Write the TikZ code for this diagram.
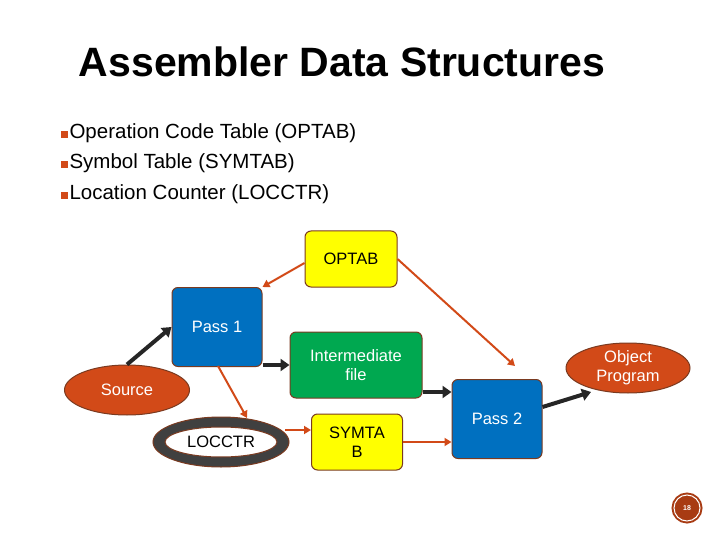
\documentclass[tikz,border=0pt]{standalone}
\usepackage{fontspec}
\setmainfont{Liberation Sans}
\usetikzlibrary{shapes.geometric,arrows.meta}
\definecolor{boxblue}{HTML}{0070C0}
\definecolor{boxgreen}{HTML}{00A850}
\definecolor{boxyellow}{HTML}{FFFF00}
\definecolor{rust}{HTML}{D24A18}
\definecolor{edgebrown}{HTML}{7A3A20}
\newcommand{\bulletsq}{{\color{rust}\rule{7pt}{7pt}}\hspace{2pt}}
\tikzset{
  box/.style={draw=edgebrown, line width=1pt, rounded corners=6pt, inner sep=0pt, font=\fontsize{16.5}{19}\selectfont, align=center},
  pass/.style={box, fill=boxblue, text=white, minimum width=90pt, minimum height=79pt},
  tab/.style={box, fill=boxyellow, minimum width=91pt, minimum height=56pt},
  blob/.style={ellipse, draw=edgebrown, line width=1pt, fill=rust, text=white, inner sep=0pt, font=\fontsize{16.5}{19}\selectfont, align=center},
  flow/.style={line width=4pt, draw=black!85, -{Triangle[length=9pt,width=12pt]}},
  uses/.style={line width=2pt, draw=rust, -{Triangle[length=7pt,width=8pt]}},
  bullet/.style={anchor=west, font=\fontsize{20.5}{24}\selectfont}
}
\begin{document}
\begin{tikzpicture}[x=1pt,y=-1pt]
  \useasboundingbox (0,0) rectangle (720,540);
  \node[font=\fontsize{41}{46}\selectfont\bfseries] (title) at (342,62) {Assembler Data Structures};
  \node[bullet] (b1) at (57,133) {\bulletsq Operation Code Table (OPTAB)};
  \node[bullet] (b2) at (57,163) {\bulletsq Symbol Table (SYMTAB)};
  \node[bullet] (b3) at (57,194) {\bulletsq Location Counter (LOCCTR)};

  \node[tab, minimum width=92pt] (optab) at (351,259) {OPTAB};
  \node[pass] (pass1) at (217,327) {Pass 1};
  \node[box, fill=boxgreen, text=white, minimum width=132pt, minimum height=66pt] (inter) at (356,365) {Intermediate\\file};
  \node[blob, minimum width=125pt, minimum height=50pt] (source) at (127,390) {Source};
  \draw[edgebrown, fill=black!75, line width=1pt] (221,442) ellipse (68pt and 25pt);
  \node[ellipse, draw=edgebrown, line width=1pt, fill=white, minimum width=112pt, minimum height=30pt, inner sep=0pt, font=\fontsize{16.5}{19}\selectfont] (locctr) at (221,442) {LOCCTR};
  \node[tab] (symtab) at (357,442) {SYMTA\\B};
  \node[pass] (pass2) at (497,419) {Pass 2};
  \node[blob, minimum width=124pt, minimum height=50pt] (object) at (628,368) {Object\\Program};

  \draw[uses] (optab.west) ++(0,4) -- (pass1.north east);
  \draw[uses] (optab.east) -- (515,366) coordinate (p2in);
  \draw[flow] (source.north) -- (pass1.west);
  \draw[flow] (pass1.east |- inter.west) -- (inter.west);
  \draw[uses] (218,366) -- (247,418) coordinate (locin);
  \draw[uses] (285,430) -- (symtab.west |- 0,430);
  \draw[uses] (symtab.east) -- (pass2.west |- symtab.east);
  \draw[flow] (inter.east |- 0,392) -- (pass2.west |- 0,392);
  \draw[flow] (pass2.east) ++(0,-12) -- (591,392);

  \node[circle, draw=rust!80!black, line width=2pt, fill=rust!80!black, text=white, minimum size=26pt, inner sep=0pt, font=\scriptsize\bfseries, double=white, double distance=1pt] (page) at (687,508) {18};
\end{tikzpicture}
\end{document}
